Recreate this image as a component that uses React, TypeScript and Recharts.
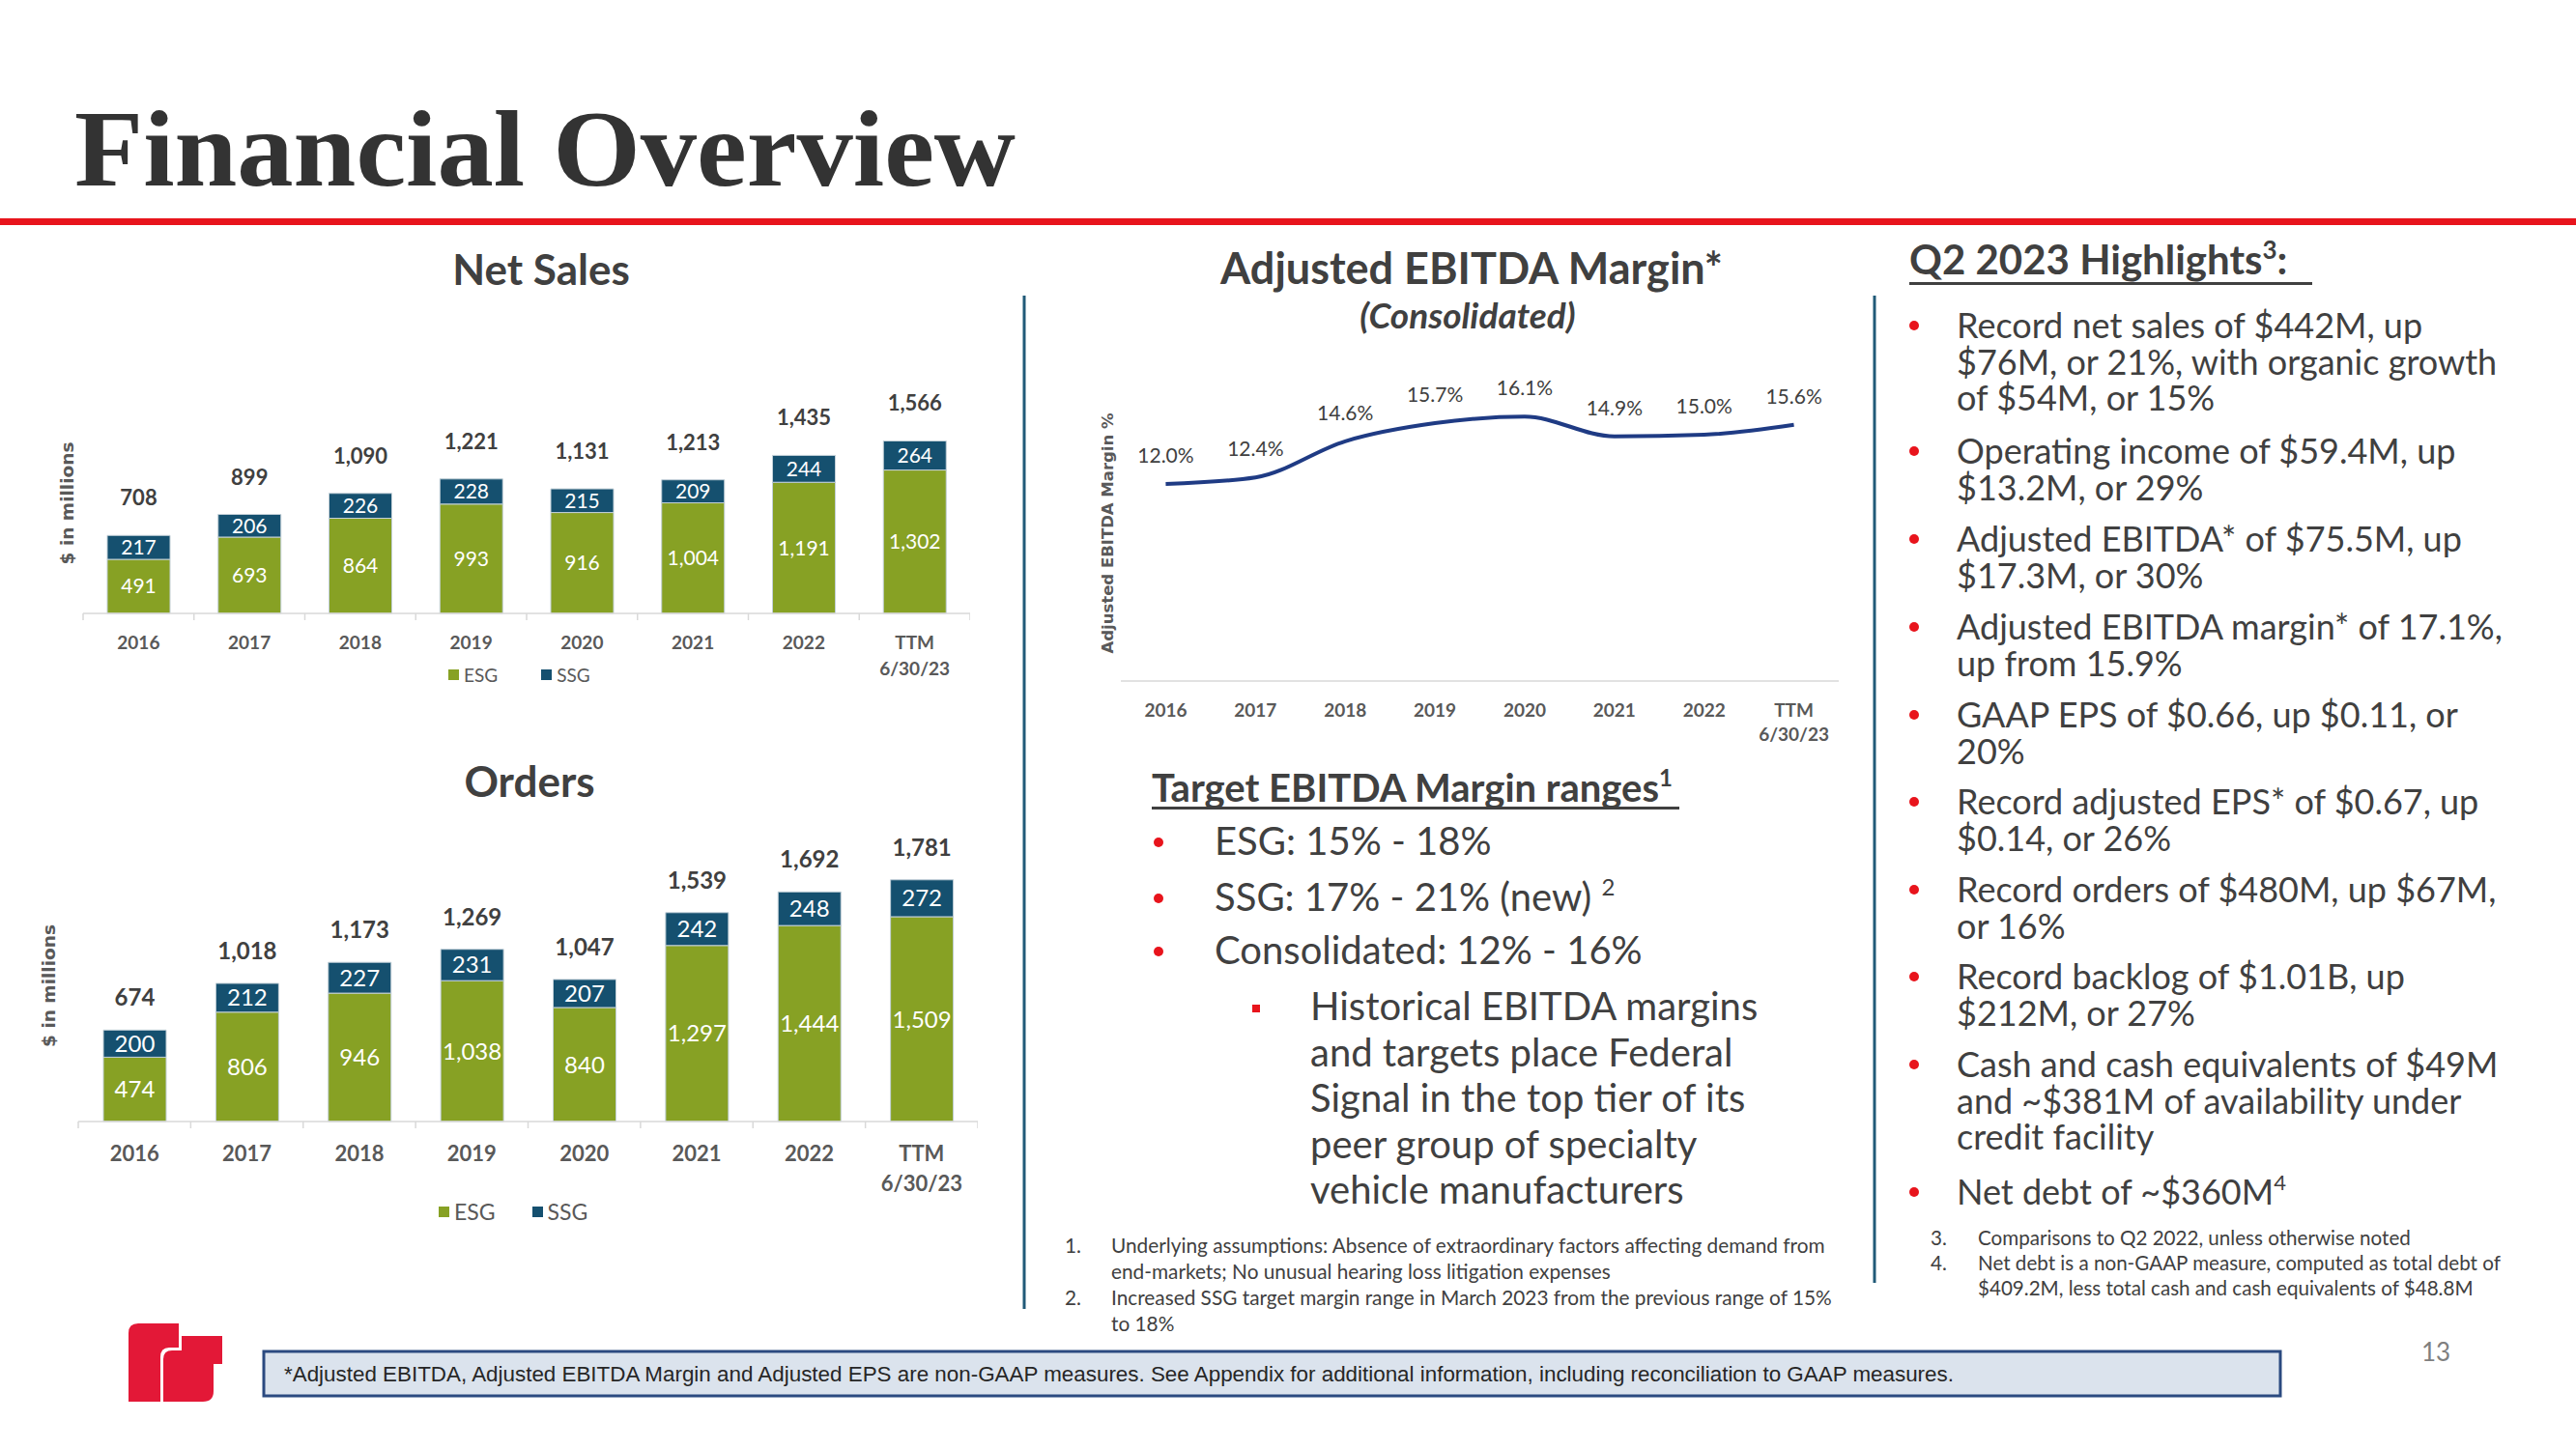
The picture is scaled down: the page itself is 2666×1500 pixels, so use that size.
import React from 'react';
import { Bar, BarChart, LabelList, Legend, Line, LineChart, XAxis, YAxis } from 'recharts';

// ---- chart data ----
const periods = ['2016', '2017', '2018', '2019', '2020', '2021', '2022', 'TTM 6/30/23'];

const salesEsg = [491, 693, 864, 993, 916, 1004, 1191, 1302];
const salesSsg = [217, 206, 226, 228, 215, 209, 244, 264];
const salesTotal = [708, 899, 1090, 1221, 1131, 1213, 1435, 1566];

const ordersEsg = [474, 806, 946, 1038, 840, 1297, 1444, 1509];
const ordersSsg = [200, 212, 227, 231, 207, 242, 248, 272];
const ordersTotal = [674, 1018, 1173, 1269, 1047, 1539, 1692, 1781];

const ebitdaMargin = [12.0, 12.4, 14.6, 15.7, 16.1, 14.9, 15.0, 15.6];

const salesData = periods.map((year, i) => ({ year, esg: salesEsg[i], ssg: salesSsg[i], total: salesTotal[i] }));
const ordersData = periods.map((year, i) => ({ year, esg: ordersEsg[i], ssg: ordersSsg[i], total: ordersTotal[i] }));
const marginData = periods.map((year, i) => ({ year, margin: ebitdaMargin[i] }));

// ---- slide text ----
const highlights = [
  { lines: ['Record net sales of $442M, up', '$76M, or 21%, with organic growth', 'of $54M, or 15%'] },
  { lines: ['Operating income of $59.4M, up', '$13.2M, or 29%'] },
  { lines: ['Adjusted EBITDA* of $75.5M, up', '$17.3M, or 30%'] },
  { lines: ['Adjusted EBITDA margin* of 17.1%,', 'up from 15.9%'] },
  { lines: ['GAAP EPS of $0.66, up $0.11, or', '20%'] },
  { lines: ['Record adjusted EPS* of $0.67, up', '$0.14, or 26%'] },
  { lines: ['Record orders of $480M, up $67M,', 'or 16%'] },
  { lines: ['Record backlog of $1.01B, up', '$212M, or 27%'] },
  { lines: ['Cash and cash equivalents of $49M', 'and ~$381M of availability under', 'credit facility'] },
  { lines: ['Net debt of ~$360M'], sup: '4' },
];
const highlightY = [350, 480, 571, 662, 753, 843, 934, 1024, 1115, 1247];

const targets = [
  { text: 'ESG: 15% - 18%' },
  { text: 'SSG: 17% - 21% (new) ', sup: '2' },
  { text: 'Consolidated: 12% - 16%' },
];
const targetY = [885, 943, 998];
const targetNote = [
  'Historical EBITDA margins',
  'and targets place Federal',
  'Signal in the top tier of its',
  'peer group of specialty',
  'vehicle manufacturers',
];

const notesLeft = [
  { n: '1.', lines: ['Underlying assumptions: Absence of extraordinary factors affecting demand from', 'end-markets; No unusual hearing loss litigation expenses'], y: 1297 },
  { n: '2.', lines: ['Increased SSG target margin range in March 2023 from the previous range of 15%', 'to 18%'], y: 1351 },
];
const notesRight = [
  { n: '3.', lines: ['Comparisons to Q2 2022, unless otherwise noted'], y: 1289 },
  { n: '4.', lines: ['Net debt is a non-GAAP measure, computed as total debt of', '$409.2M, less total cash and cash equivalents of $48.8M'], y: 1315 },
];

const SANS = 'Lato, "Open Sans", Arial, sans-serif';
const TEXT = '#404040';
const GREY = '#595959';
const RED = '#e8141c';
const GREEN = '#87a124';
const BLUE = '#15506f';
const NAVY = '#1f3b84';
const AXIS = '#d9d9d9';

const fmt = (v: any) => Number(v).toLocaleString('en-US');
const pct = (v: any) => `${Number(v).toFixed(1)}%`;

function periodTick(band: number, dy: number, gap: number, size: number, marks: boolean) {
  const last = periods[periods.length - 1];
  return (props: any) => {
    const { x, y, payload } = props;
    const parts = String(payload.value).split(' ');
    return (
      <g>
        {marks && <line x1={x - band / 2} x2={x - band / 2} y1={y} y2={y + 7} stroke={AXIS} strokeWidth={1.5} />}
        {marks && payload.value === last && (
          <line x1={x + band / 2} x2={x + band / 2} y1={y} y2={y + 7} stroke={AXIS} strokeWidth={1.5} />
        )}
        <text x={x} y={y + dy} textAnchor="middle" fontFamily={SANS} fontSize={size} fontWeight={700} fill={GREY}>
          {parts.map((p, i) => (
            <tspan key={p} x={x} dy={i === 0 ? 0 : gap}>
              {p}
            </tspan>
          ))}
        </text>
      </g>
    );
  };
}

const legendBox = (size: number, box: number, gap: number) => (props: any) => (
  <div style={{ display: 'flex', alignItems: 'center', fontFamily: SANS, fontSize: size, color: GREY, whiteSpace: 'nowrap' }}>
    {(props.payload || []).map((p: any, i: number) => (
      <span key={p.value} style={{ display: 'flex', alignItems: 'center', marginLeft: i ? gap : 0 }}>
        <span style={{ width: box, height: box, background: p.color, marginRight: 5, display: 'inline-block' }} />
        {p.value}
      </span>
    ))}
  </div>
);

interface StackProps {
  data: any[];
  axisW: number;
  plotW: number;
  plotH: number;
  marginTop: number;
  xAxisH: number;
  labelOffset: number;
  valueSize: number;
  totalSize: number;
  tickSize: number;
  tickDy: number;
  tickGap: number;
  totalOffset: number;
  legendTop: number;
  legendLeft: number;
  legendSize: number;
  legendGap: number;
}

function StackedChart(p: StackProps) {
  return (
    <BarChart
      width={p.axisW + p.plotW}
      height={p.marginTop + p.plotH + p.xAxisH}
      data={p.data}
      margin={{ top: p.marginTop, right: 0, bottom: 0, left: 0 }}
    >
      <XAxis
        dataKey="year"
        height={p.xAxisH}
        interval={0}
        axisLine={{ stroke: AXIS, strokeWidth: 1.5 }}
        tickLine={false}
        tickSize={0}
        tickMargin={0}
        tick={periodTick(p.plotW / periods.length, p.tickDy, p.tickGap, p.tickSize, true)}
      />
      <YAxis
        width={p.axisW}
        domain={[0, 2000]}
        tick={false}
        axisLine={false}
        tickLine={false}
        label={{
          value: '$ in millions',
          angle: -90,
          position: 'insideLeft',
          offset: p.labelOffset,
          textAnchor: 'middle',
          fill: GREY,
          fontSize: 18.5,
          fontWeight: 700,
          fontFamily: '"DejaVu Sans", sans-serif',
        }}
      />
      <Legend
        verticalAlign="middle"
        align="center"
        wrapperStyle={{ top: p.legendTop, left: p.legendLeft, width: 260 }}
        content={legendBox(p.legendSize, 11, p.legendGap)}
      />
      <Bar dataKey="esg" name="ESG" stackId="seg" fill={GREEN} stroke="#c3d0d8" strokeWidth={1} barSize={65} isAnimationActive={false}>
        <LabelList dataKey="esg" position="center" formatter={fmt} fill="#ffffff" fontSize={p.valueSize} fontFamily={SANS} />
      </Bar>
      <Bar dataKey="ssg" name="SSG" stackId="seg" fill={BLUE} stroke="#c3d0d8" strokeWidth={1} barSize={65} isAnimationActive={false}>
        <LabelList dataKey="ssg" position="center" formatter={fmt} fill="#ffffff" fontSize={p.valueSize} fontFamily={SANS} />
        <LabelList
          dataKey="total"
          position="top"
          offset={p.totalOffset}
          formatter={fmt}
          fill={TEXT}
          fontWeight={700}
          fontSize={p.totalSize}
          fontFamily={SANS}
        />
      </Bar>
    </BarChart>
  );
}

function MarginChart() {
  const plotW = 743;
  return (
    <LineChart width={30 + plotW} height={40 + 306 + 80} data={marginData} margin={{ top: 40, right: 0, bottom: 0, left: 0 }}>
      <XAxis
        dataKey="year"
        scale="band"
        height={80}
        interval={0}
        axisLine={{ stroke: AXIS, strokeWidth: 1.5 }}
        tickLine={false}
        tickSize={0}
        tickMargin={0}
        tick={periodTick(plotW / periods.length, 37, 25, 19, false)}
      />
      <YAxis
        width={30}
        domain={[0, 18]}
        tick={false}
        axisLine={false}
        tickLine={false}
        label={{
          value: 'Adjusted EBITDA Margin %',
          angle: -90,
          position: 'insideLeft',
          offset: 16,
          textAnchor: 'middle',
          fill: GREY,
          fontSize: 16.5,
          fontWeight: 700,
          fontFamily: '"DejaVu Sans", sans-serif',
        }}
      />
      <Line type="monotone" dataKey="margin" stroke={NAVY} strokeWidth={4} dot={false} isAnimationActive={false}>
        <LabelList dataKey="margin" position="top" offset={22} formatter={pct} fill={TEXT} fontSize={21} fontFamily={SANS} />
      </Line>
    </LineChart>
  );
}

function Logo() {
  return (
    <g transform="translate(133,1370)" fill="#e31837">
      <path d="M0,81 L0,10 Q0,0 10,0 L52,0 L52,25 L42,25 Q33,25 33,35 L33,81 Z" />
      <path d="M36,81 L36,37 Q36,28 45,28 L55,28 L55,13 L97,13 L97,42 L88,42 L88,70 Q88,81 77,81 Z" />
    </g>
  );
}

function SlideText() {
  return (
    <svg width={2666} height={1500} style={{ position: 'absolute', left: 0, top: 0 }}>
      <text
        x={77}
        y={192}
        textLength={974}
        lengthAdjust="spacingAndGlyphs"
        fontFamily='"Liberation Serif", "DejaVu Serif", serif'
        fontWeight={700}
        fontSize={113}
        fill="#333333"
      >
        Financial Overview
      </text>
      <rect x={0} y={226} width={2666} height={7} fill={RED} />

      <g fontFamily={SANS} fill={TEXT}>
        <text x={560} y={295} textAnchor="middle" fontWeight={700} fontSize={44}>Net Sales</text>
        <text x={548} y={825} textAnchor="middle" fontWeight={700} fontSize={44}>Orders</text>
        <text x={1523} y={294} textAnchor="middle" fontWeight={700} fontSize={45}>Adjusted EBITDA Margin*</text>
        <text x={1519} y={340} textAnchor="middle" fontWeight={700} fontStyle="italic" fontSize={37}>(Consolidated)</text>
      </g>

      <line x1={1060} x2={1060} y1={306} y2={1355} stroke="#215a78" strokeWidth={3} />
      <line x1={1940} x2={1940} y1={306} y2={1328} stroke="#215a78" strokeWidth={3} />

      {/* target margins */}
      <g fontFamily={SANS} fill={TEXT}>
        <text x={1192} y={830} fontWeight={700} fontSize={40}>
          Target EBITDA Margin ranges
          <tspan fontSize={24} dy={-16}>1</tspan>
        </text>
        <rect x={1192} y={835} width={546} height={3} fill={TEXT} />
        {targets.map((t, i) => (
          <g key={t.text}>
            <circle cx={1199} cy={targetY[i] - 13} r={5} fill={RED} />
            <text x={1257} y={targetY[i]} fontSize={40}>
              {t.text}
              {t.sup && <tspan fontSize={24} dy={-16}>{t.sup}</tspan>}
            </text>
          </g>
        ))}
        <rect x={1296} y={1040} width={8} height={8} fill={RED} />
        {targetNote.map((l, i) => (
          <text key={l} x={1356} y={1056 + i * 47.6} fontSize={40}>{l}</text>
        ))}
        {notesLeft.map((n) => (
          <g key={n.n} fontSize={20.8}>
            <text x={1102} y={n.y}>{n.n}</text>
            {n.lines.map((l, j) => (
              <text key={l} x={1150} y={n.y + j * 27}>{l}</text>
            ))}
          </g>
        ))}
      </g>

      {/* highlights */}
      <g fontFamily={SANS} fill={TEXT}>
        <text x={1976} y={284} fontWeight={700} fontSize={42}>
          Q2 2023 Highlights
          <tspan fontSize={26} dy={-16}>3</tspan>
          <tspan dy={16}>:</tspan>
        </text>
        <rect x={1976} y={292} width={417} height={3} fill={TEXT} />
        {highlights.map((h, i) => (
          <g key={h.lines[0]}>
            <circle cx={1981} cy={highlightY[i] - 13} r={5} fill={RED} />
            {h.lines.map((l, j) => (
              <text key={l} x={2025} y={highlightY[i] + j * 37.5} fontSize={36}>
                {l}
                {h.sup && j === h.lines.length - 1 && <tspan fontSize={22} dy={-15}>{h.sup}</tspan>}
              </text>
            ))}
          </g>
        ))}
        {notesRight.map((n) => (
          <g key={n.n} fontSize={20.6}>
            <text x={1998} y={n.y}>{n.n}</text>
            {n.lines.map((l, j) => (
              <text key={l} x={2047} y={n.y + j * 26}>{l}</text>
            ))}
          </g>
        ))}
      </g>

      {/* footer */}
      <Logo />
      <rect x={273} y={1399} width={2087} height={46} fill="#dbe3ed" stroke="#2b4a80" strokeWidth={3} />
      <text x={294} y={1430} fontFamily='"Liberation Sans", Arial, sans-serif' fontSize={22.4} fill="#262626">
        *Adjusted EBITDA, Adjusted EBITDA Margin and Adjusted EPS are non-GAAP measures. See Appendix for additional information, including reconciliation to GAAP measures.
      </text>
      <text x={2506} y={1409} fontFamily={SANS} fontSize={26} fill="#7f7f7f">13</text>
    </svg>
  );
}

export default function App() {
  return (
    <div style={{ position: 'absolute', left: 0, top: 0, width: 2666, height: 1500, background: '#ffffff', overflow: 'hidden' }}>
      <SlideText />
      <div style={{ position: 'absolute', left: 46, top: 380 }}>
        <StackedChart
          data={salesData}
          axisW={40}
          plotW={918}
          plotH={228}
          marginTop={27}
          xAxisH={100}
          labelOffset={23}
          valueSize={21}
          totalSize={22}
          tickSize={19}
          tickDy={37}
          tickGap={27}
          totalOffset={31}
          legendTop={307}
          legendLeft={418}
          legendSize={19}
          legendGap={45}
        />
      </div>
      <div style={{ position: 'absolute', left: 36, top: 850 }}>
        <StackedChart
          data={ordersData}
          axisW={45}
          plotW={931}
          plotH={281}
          marginTop={30}
          xAxisH={110}
          labelOffset={14}
          valueSize={24}
          totalSize={24}
          tickSize={22}
          tickDy={41}
          tickGap={31}
          totalOffset={25}
          legendTop={390}
          legendLeft={418}
          legendSize={23}
          legendGap={38}
        />
      </div>
      <div style={{ position: 'absolute', left: 1130, top: 359 }}>
        <MarginChart />
      </div>
    </div>
  );
}
